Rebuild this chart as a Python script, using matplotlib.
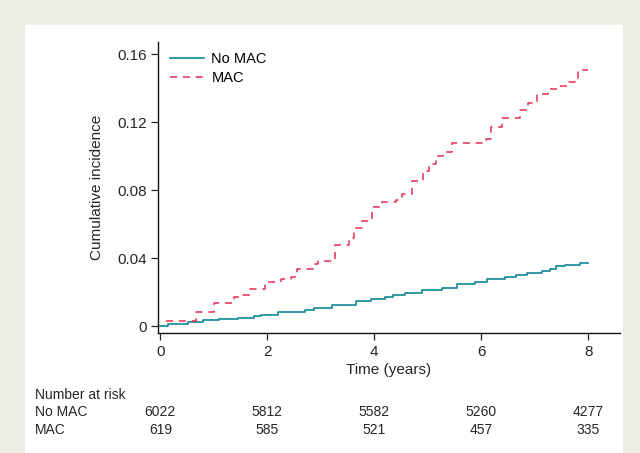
import numpy as np
import matplotlib
matplotlib.use('Agg')
import matplotlib.pyplot as plt
from matplotlib.patches import Rectangle

plt.rcParams['font.family'] = ['Liberation Sans', 'DejaVu Sans']

# MAC group: jump times (years) and cumulative incidence after each jump
mac_t = [0.11, 0.66, 1.00, 1.37, 1.55, 1.68, 1.95, 2.25, 2.45, 2.56, 2.85, 2.95,
         3.27, 3.52, 3.62, 3.77, 3.95, 4.15, 4.40, 4.52, 4.70, 4.91, 5.02, 5.15,
         5.28, 5.45, 6.08, 6.18, 6.38, 6.72, 6.87, 7.04, 7.25, 7.44, 7.64, 7.80, 8.00]
mac_v = [0.0030, 0.0086, 0.0135, 0.0172, 0.0184, 0.0219, 0.0262, 0.0278, 0.0291,
         0.0336, 0.0364, 0.0385, 0.0478, 0.0520, 0.0578, 0.0618, 0.0701, 0.0731,
         0.0745, 0.0780, 0.0854, 0.0912, 0.0956, 0.1000, 0.1028, 0.1077, 0.1102,
         0.1170, 0.1223, 0.1270, 0.1313, 0.1366, 0.1395, 0.1415, 0.1434, 0.1507, 0.1507]

# No MAC group
nomac_t = [0.0, 0.15, 0.52, 0.80, 1.10, 1.45, 1.75, 1.89, 2.20, 2.70, 2.88, 3.20,
           3.65, 3.93, 4.20, 4.35, 4.58, 4.90, 5.27, 5.55, 5.88, 6.10, 6.45, 6.64,
           6.85, 7.13, 7.28, 7.40, 7.56, 7.84, 8.00]
nomac_v = [0.0, 0.0012, 0.0024, 0.0035, 0.0045, 0.0049, 0.0059, 0.0069, 0.0084,
           0.0094, 0.0108, 0.0127, 0.0147, 0.0159, 0.0174, 0.0182, 0.0194, 0.0214,
           0.0227, 0.0247, 0.0262, 0.0278, 0.0292, 0.0304, 0.0312, 0.0327, 0.0339,
           0.0355, 0.0362, 0.0374, 0.0374]

# number at risk table
risk_times = [0, 2, 4, 6, 8]
risk_nomac = [6022, 5812, 5582, 5260, 4277]
risk_mac = [619, 585, 521, 457, 335]

xticks = [0, 2, 4, 6, 8]
yticks = [0, 0.04, 0.08, 0.12, 0.16]
ytick_labels = ['0', '0.04', '0.08', '0.12', '0.16']

teal = '#178c9b'
red = '#e62c4f'
txt = '#262626'

fig = plt.figure(figsize=(6.4, 4.53), dpi=100)
fig.patch.set_facecolor('#f0efe4')
# white panel behind the chart
fig.patches.append(Rectangle((25 / 640, 0), (623 - 25) / 640, (453 - 25) / 453,
                             transform=fig.transFigure, facecolor='white',
                             edgecolor='none', zorder=-1))

ax = fig.add_axes([157.7 / 640, 1 - 333 / 453, (620 - 157.7) / 640, (333 - 42) / 453])
ax.set_facecolor('white')

ax.step(nomac_t, nomac_v, where='post', color=teal, lw=1.25, label='No MAC')
mac_line, = ax.step(mac_t, mac_v, where='post', color=red, lw=1.1, label='MAC')
mac_line.set_dashes((4.6, 3.8))

ax.set_xlim(-0.049, 8.593)
ax.set_ylim(-0.0039, 0.1672)
ax.set_xticks(xticks)
ax.set_yticks(yticks)
ax.set_yticklabels(ytick_labels)
ax.tick_params(axis='both', direction='out', length=5, width=0.9, labelsize=11,
               colors=txt)
ax.tick_params(axis='y', pad=3)
for s in ['top', 'right']:
    ax.spines[s].set_visible(False)
for s in ['left', 'bottom']:
    ax.spines[s].set_linewidth(1.0)
    ax.spines[s].set_color('#111111')

ax.set_xlabel('Time (years)', fontsize=11, color=txt, labelpad=3)
ax.set_ylabel('Cumulative incidence', fontsize=11, color=txt, labelpad=9)

leg = ax.legend(loc='upper left', bbox_to_anchor=(0.015, 0.985), frameon=False,
                fontsize=10.5, handlelength=2.3, handletextpad=0.5,
                labelspacing=0.35, borderaxespad=0)

# number at risk table
tr = ax.get_xaxis_transform()
fig.text(35 / 640, 1 - 395 / 453, 'Number at risk', fontsize=10, va='center',
         ha='left', color=txt)
fig.text(35 / 640, 1 - 412 / 453, 'No MAC', fontsize=10, va='center',
         ha='left', color=txt)
fig.text(35 / 640, 1 - 430 / 453, 'MAC', fontsize=10, va='center',
         ha='left', color=txt)
y_nomac = (412 - 42) / (333 - 42)
y_mac = (430 - 42) / (333 - 42)
for t, n1, n2 in zip(risk_times, risk_nomac, risk_mac):
    ax.text(t, 1 - y_nomac, str(n1), transform=tr, ha='center', va='center',
            fontsize=10, color=txt, clip_on=False)
    ax.text(t, 1 - y_mac, str(n2), transform=tr, ha='center', va='center',
            fontsize=10, color=txt, clip_on=False)

fig.savefig('out.png', dpi=100, facecolor=fig.get_facecolor())
